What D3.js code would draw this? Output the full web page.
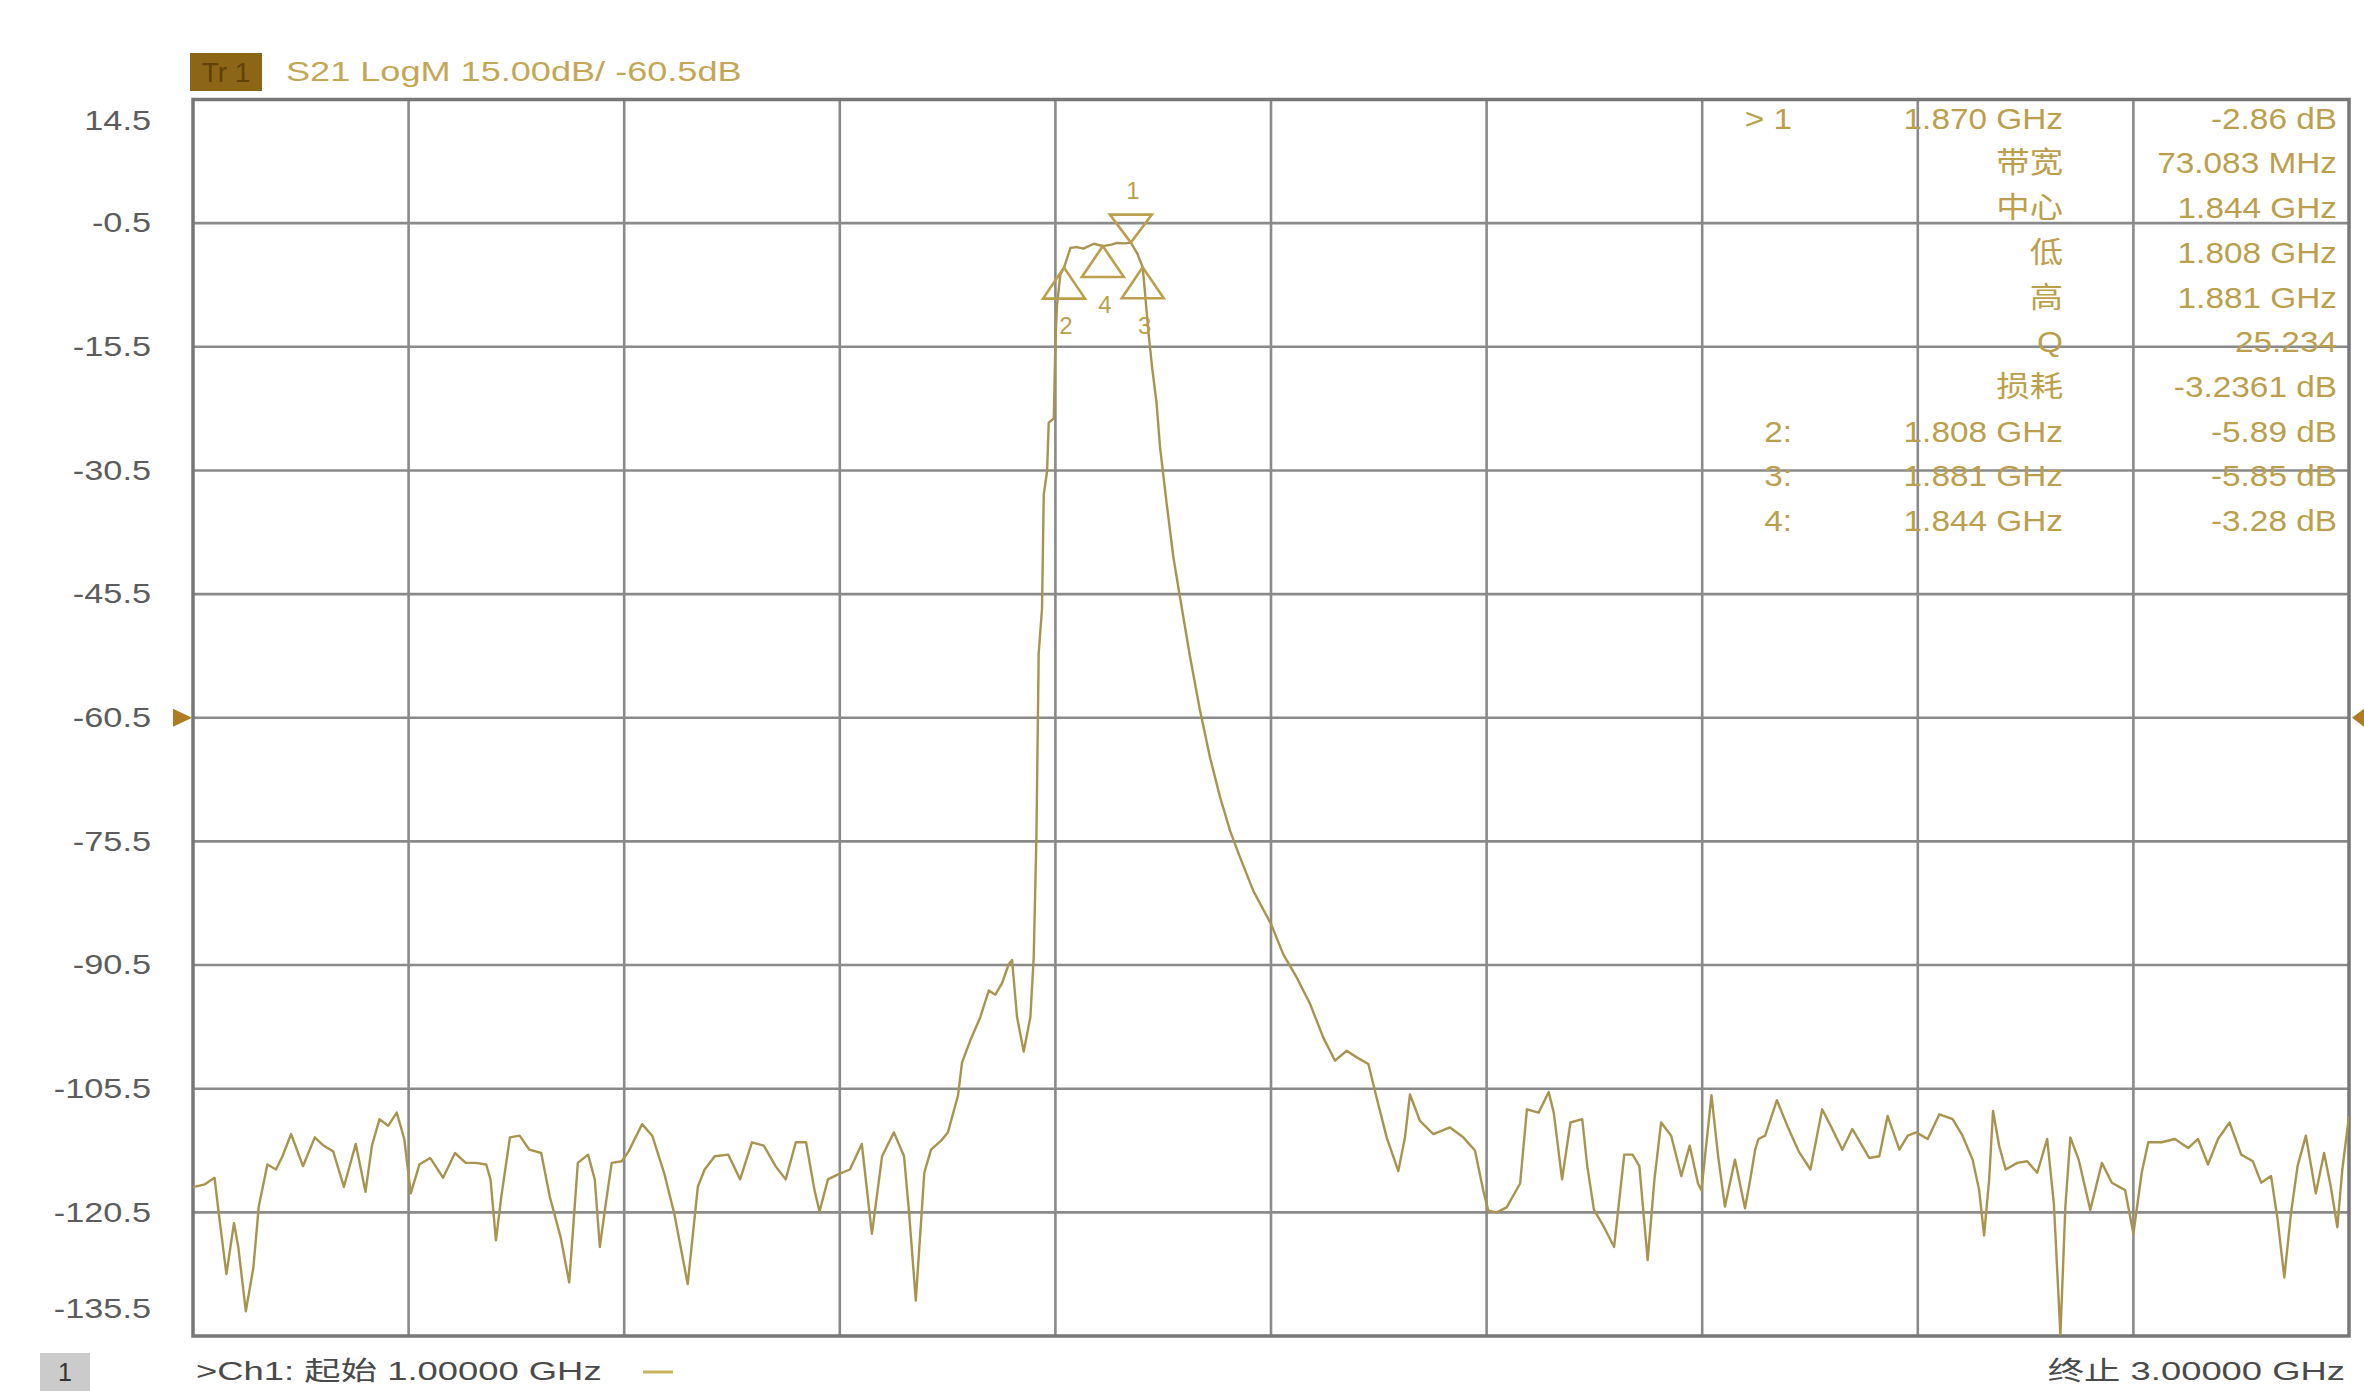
<!DOCTYPE html>
<html>
<head>
<meta charset="utf-8">
<script src="https://cdn.jsdelivr.net/npm/d3@7"></script>
<style>
html,body{margin:0;padding:0;background:#fff;}
svg{display:block;}
</style>
</head>
<body>
<svg id="chart" width="2364" height="1391"></svg>
<script>
// ---------- data ----------
const FREQ_GHZ = [
1.000,1.003,1.011,1.020,1.0235,1.031,1.038,1.042,1.049,1.056,1.061,1.069,1.077,1.083,1.091,1.102,1.113,1.121,1.130,1.140,
1.151,1.160,1.166,1.173,1.181,1.189,1.196,1.202,1.210,1.220,1.232,1.243,1.253,1.262,1.272,1.276,1.281,1.286,1.294,1.303,
1.312,1.323,1.331,1.341,1.349,1.357,1.3665,1.3727,1.3774,1.3821,1.3884,1.3978,1.4041,1.4166,1.426,1.437,1.4464,1.4589,1.4683,1.4746,
1.484,1.4966,1.5075,1.5185,1.5295,1.5404,1.5498,1.5592,1.5687,1.5765,1.5812,1.589,1.5984,1.6094,1.6204,1.6298,1.6392,1.6502,1.6596,1.6643,
1.6705,1.6784,1.6846,1.694,1.7003,1.7097,1.7134,1.7212,1.7304,1.7382,1.7443,1.7505,1.7567,1.7598,1.7644,1.7706,1.7768,1.7799,1.7824,1.7845,
1.7876,1.7892,1.7923,1.7938,1.7985,1.800,1.8015,1.8046,1.808,1.814,1.820,1.826,1.8356,1.844,1.852,1.8572,1.864,1.870,1.876,1.881,
1.8866,1.8897,1.8939,1.897,1.9032,1.9094,1.9156,1.9249,1.9341,1.9434,1.9527,1.962,1.9712,1.9836,2.000,2.0114,2.0238,2.0362,2.0485,2.0594,
2.0702,2.0795,2.0903,2.098,2.1073,2.1181,2.1243,2.1289,2.1382,2.1506,2.166,2.1784,2.1892,2.197,2.2016,2.2093,2.2186,2.2311,2.2374,2.2483,
2.2576,2.2623,2.270,2.2778,2.2887,2.2934,2.2996,2.309,2.3183,2.3277,2.3354,2.3417,2.3494,2.3557,2.3619,2.3712,2.3806,2.3884,2.3961,2.3993,
2.4086,2.4148,2.4211,2.4304,2.4397,2.4446,2.4491,2.4522,2.4584,2.4693,2.4802,2.4895,2.5004,2.5113,2.5207,2.530,2.5393,2.5456,2.5549,2.5643,
2.572,2.5829,2.5907,2.5985,2.6092,2.620,2.6323,2.6415,2.6508,2.6569,2.6615,2.6662,2.6698,2.6754,2.6815,2.6923,2.7015,2.7108,2.720,2.7262,
2.7323,2.7369,2.7415,2.7492,2.760,2.7708,2.780,2.7923,2.800,2.8077,2.8138,2.8262,2.8385,2.8508,2.860,2.8692,2.8785,2.8892,2.900,2.9108,
2.9185,2.9277,2.9338,2.940,2.9462,2.9523,2.960,2.9692,2.9769,2.9831,2.9892,2.9938,3.000
];
const S21_DB = [
-117.4,-117.35,-117.1,-116.3,-120.2,-128.0,-121.8,-124.7,-132.5,-127.2,-119.8,-114.7,-115.3,-113.7,-111.0,-114.9,-111.4,-112.4,-113.1,-117.4,
-112.2,-118.0,-112.4,-109.2,-110.0,-108.4,-111.6,-118.2,-114.7,-113.9,-116.3,-113.3,-114.5,-114.5,-114.7,-116.5,-123.9,-118.6,-111.4,-111.2,
-112.9,-113.3,-118.6,-123.5,-129.0,-114.5,-113.5,-116.5,-124.7,-120.2,-114.5,-114.3,-113.1,-109.8,-111.2,-115.7,-120.6,-129.2,-117.4,-115.3,
-113.7,-113.5,-116.5,-112.0,-112.4,-114.9,-116.5,-112.0,-112.0,-117.8,-120.4,-116.5,-115.9,-115.3,-112.2,-123.1,-113.7,-110.8,-113.7,-120.6,
-131.2,-115.7,-112.9,-111.8,-110.8,-106.3,-102.3,-99.6,-96.8,-93.6,-94.1,-92.7,-90.4,-89.9,-96.8,-101.0,-96.8,-89.5,-74.8,-52.7,
-47.2,-33.4,-30.6,-24.7,-24.2,-15.0,-10.4,-6.75,-5.89,-3.5,-3.4,-3.6,-3.0,-3.28,-3.1,-2.9,-2.95,-2.86,-4.2,-5.85,
-14.1,-18.0,-22.4,-27.6,-34.5,-41.0,-45.9,-53.1,-59.6,-65.3,-70.1,-74.2,-77.4,-81.5,-85.5,-89.2,-92.0,-95.2,-99.3,-102.1,
-100.9,-101.7,-102.5,-106.6,-111.4,-115.5,-111.4,-106.2,-109.4,-111.0,-110.2,-111.4,-113.0,-117.9,-120.3,-120.5,-119.9,-117.0,-108.0,-108.4,
-105.9,-108.4,-116.5,-109.6,-109.2,-114.9,-120.2,-122.3,-124.7,-113.5,-113.5,-114.9,-126.3,-116.5,-109.6,-111.2,-116.1,-112.4,-117.0,-117.8,
-106.3,-113.7,-119.8,-114.1,-120.0,-116.5,-112.9,-111.6,-111.2,-106.9,-110.4,-113.1,-115.3,-108.0,-110.4,-112.9,-110.4,-111.8,-113.9,-113.7,
-108.8,-112.9,-111.2,-110.8,-111.6,-108.6,-109.2,-111.2,-114.1,-117.8,-123.3,-116.5,-108.2,-112.4,-115.3,-114.5,-114.3,-115.7,-111.6,-119.4,
-135.3,-119.8,-111.4,-114.1,-120.2,-114.5,-116.9,-117.8,-123.1,-115.7,-112.0,-112.0,-111.6,-112.7,-111.6,-114.7,-111.6,-109.6,-113.5,-114.3,
-116.9,-116.1,-121.4,-128.4,-120.6,-114.9,-111.2,-118.2,-113.3,-117.4,-122.3,-115.3,-108.8
];
const Y_TICKS = [14.5,-0.5,-15.5,-30.5,-45.5,-60.5,-75.5,-90.5,-105.5,-120.5,-135.5];
const X_GRID_GHZ = [1.0,1.2,1.4,1.6,1.8,2.0,2.2,2.4,2.6,2.8,3.0];
const REF_LEVEL = -60.5;

const MARKER_IDS  = ["1","2","3","4"];
const MARKER_FREQ = [1.870,1.808,1.881,1.844];
const MARKER_DB   = [-2.86,-5.89,-5.85,-3.28];

const TABLE_NUM   = ["> 1","","","","","","","2:","3:","4:"];
const TABLE_NAME  = ["1.870  GHz","带宽","中心","低","高","Q","损耗","1.808  GHz","1.881  GHz","1.844  GHz"];
const TABLE_VALUE = ["-2.86 dB","73.083 MHz","1.844 GHz","1.808 GHz","1.881 GHz","25.234","-3.2361 dB","-5.89 dB","-5.85 dB","-3.28 dB"];

const HEADER_TAG  = "Tr 1";
const HEADER_TEXT = "S21 LogM 15.00dB/ -60.5dB";
const FOOT_CH     = "1";
const FOOT_START  = ">Ch1: 起始  1.00000 GHz";
const FOOT_STOP   = "终止  3.00000 GHz";

// ---------- layout ----------
const L = 193, R = 2349, T = 99.5, B = 1336;
const FONT = "'Liberation Sans', Arial, 'Noto Sans CJK SC', sans-serif";
const GOLD = "#bb9f4c";
const TRACE = "#a8944e";

const svg = d3.select("#chart");
const x = d3.scaleLinear().domain([1,3]).range([L,R]);
const y = d3.scaleLinear().domain([14.5,-135.5]).range([T,B]);

function txt(g, px, py, s, o){
  const t = g.append("g").attr("transform",`translate(${px},${py}) scale(${o.sx||1},1)`)
    .append("text").attr("x",0).attr("y",0)
    .attr("font-family",FONT).attr("font-size",o.size)
    .attr("fill",o.fill).attr("text-anchor",o.anchor||"start")
    .attr("dominant-baseline","central").text(s);
  return t;
}

// grid
const grid = svg.append("g");
grid.selectAll("line.v").data(X_GRID_GHZ.slice(1,-1)).join("line")
  .attr("x1",d=>x(d)).attr("x2",d=>x(d)).attr("y1",T).attr("y2",B)
  .attr("stroke","#8a8a8a").attr("stroke-width",2.6);
grid.selectAll("line.h").data(Y_TICKS.slice(1,-1)).join("line")
  .attr("y1",d=>y(d)).attr("y2",d=>y(d)).attr("x1",L).attr("x2",R)
  .attr("stroke","#8a8a8a").attr("stroke-width",2.6);
svg.append("rect").attr("x",L).attr("y",T).attr("width",R-L).attr("height",B-T)
  .attr("fill","none").attr("stroke","#777").attr("stroke-width",3.5);

// y tick labels
Y_TICKS.forEach((v,i)=>{
  let py = y(v);
  if(i===0) py += 21;
  if(i===Y_TICKS.length-1) py -= 27;
  txt(svg,151,py,v.toFixed(1),{size:27,sx:1.27,anchor:"end",fill:"#5c5c5c"});
});

// reference arrows
svg.append("path").attr("d",`M${L-20},${y(REF_LEVEL)-9}L${L-1},${y(REF_LEVEL)}L${L-20},${y(REF_LEVEL)+9}Z`).attr("fill","#b07b22");
svg.append("path").attr("d",`M2364,${y(REF_LEVEL)-9}L${R+3},${y(REF_LEVEL)}L2364,${y(REF_LEVEL)+9}Z`).attr("fill","#b07b22");

// trace
svg.append("clipPath").attr("id","clip").append("rect").attr("x",L).attr("y",T).attr("width",R-L).attr("height",B-T);
const pts = FREQ_GHZ.map((f,i)=>[f,S21_DB[i]]);
svg.append("path").datum(pts).attr("clip-path","url(#clip)")
  .attr("d",d3.line().x(d=>x(d[0])).y(d=>y(d[1])))
  .attr("fill","none").attr("stroke",TRACE).attr("stroke-width",2.4).attr("stroke-linejoin","round");

// markers
const mk = svg.append("g");
MARKER_IDS.forEach((id,i)=>{
  const mx = x(MARKER_FREQ[i]), my = y(MARKER_DB[i]);
  if(i===0){
    mk.append("path").attr("d",`M${mx},${my}L${mx-21},${my-28}L${mx+21},${my-28}Z`)
      .attr("fill","none").attr("stroke",GOLD).attr("stroke-width",2.6);
    txt(mk,mx+2,my-52,id,{size:24,fill:GOLD,anchor:"middle"});
  } else {
    mk.append("path").attr("d",`M${mx},${my}L${mx-21},${my+31}L${mx+21},${my+31}Z`)
      .attr("fill","none").attr("stroke",GOLD).attr("stroke-width",2.6);
    txt(mk,mx+2,my+58,id,{size:24,fill:GOLD,anchor:"middle"});
  }
});

// marker table
const tb = svg.append("g");
TABLE_NAME.forEach((s,i)=>{
  const py = 119 + 44.7*i;
  if(TABLE_NUM[i]) txt(tb,1792,py,TABLE_NUM[i],{size:29,sx:1.15,anchor:"end",fill:GOLD});
  txt(tb,2063,py,s,{size:29,sx:1.15,anchor:"end",fill:GOLD});
  txt(tb,2337,py,TABLE_VALUE[i],{size:29,sx:1.15,anchor:"end",fill:GOLD});
});

// header
svg.append("rect").attr("x",190).attr("y",53).attr("width",72).attr("height",38).attr("fill","#8c6616");
txt(svg,226,72,HEADER_TAG,{size:28,anchor:"middle",fill:"#5e4208"});
txt(svg,286,71,HEADER_TEXT,{size:28,sx:1.29,fill:"#c4a756"});

// footer
svg.append("rect").attr("x",40).attr("y",1353).attr("width",50).attr("height",38).attr("fill","#cbcbcb");
txt(svg,65,1372,FOOT_CH,{size:25,anchor:"middle",fill:"#333"});
txt(svg,196,1371,FOOT_START,{size:26,sx:1.4,fill:"#4a4a4a"});
svg.append("line").attr("x1",643).attr("x2",673).attr("y1",1372).attr("y2",1372).attr("stroke","#c9b25a").attr("stroke-width",3);
txt(svg,2345,1371,FOOT_STOP,{size:26,sx:1.4,anchor:"end",fill:"#4a4a4a"});
</script>
</body>
</html>
